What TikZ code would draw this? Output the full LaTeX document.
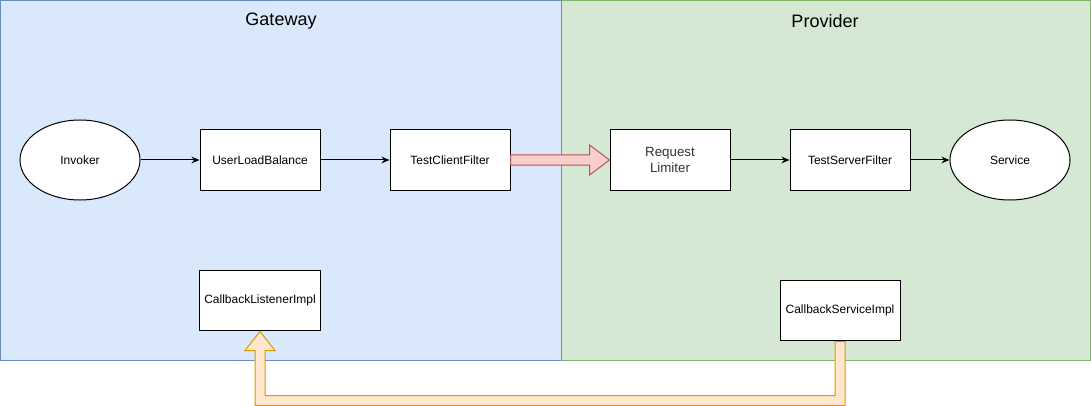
\documentclass[tikz,border=0pt]{standalone}
\usepackage{fontspec}
\setmainfont{Liberation Sans}
\usetikzlibrary{calc,arrows.meta}
\definecolor{gwfill}{HTML}{DAE8FC}
\definecolor{gwline}{HTML}{6C8EBF}
\definecolor{pvfill}{HTML}{D5E8D4}
\definecolor{pvline}{HTML}{82B366}
\definecolor{redfill}{HTML}{F8CECC}
\definecolor{redline}{HTML}{B85450}
\definecolor{orgfill}{HTML}{FFE6CC}
\definecolor{orgline}{HTML}{D79B00}
\tikzset{
    box/.style={
        draw=black, fill=white, line width=0.75pt,
        minimum width=90pt, minimum height=45pt,
        font=\fontsize{9}{11}\selectfont, align=center
    },
    oval/.style={
        draw=black, fill=white, line width=0.75pt, ellipse,
        minimum width=90pt, minimum height=60pt,
        font=\fontsize{9}{11}\selectfont
    },
    title/.style={
        font=\fontsize{13.5}{16}\selectfont
    },
    flow/.style={
        line width=0.75pt, -{Stealth[length=6pt,width=5pt]}
    }
}
\usetikzlibrary{shapes.geometric}

\begin{document}
\begin{tikzpicture}[x=0.75pt,y=-0.75pt,line cap=butt,line join=miter]

\useasboundingbox (0,0) rectangle (1091,406);

% --- zones ---
    \draw[fill=gwfill, draw=gwline, line width=0.75pt] (0.5,0.5) rectangle (561,360);
    \draw[fill=pvfill, draw=pvline, line width=0.75pt] (561,0.5) rectangle (1090.5,360);
    \draw[gwline, line width=0.75pt] (561,0.5) -- (561,360);

    \node[title] (gwtitle) at (281,21) {Gateway};
    \node[title] (pvtitle) at (825,21) {Provider};

% --- call chain ---
    \node[oval] (invoker) at (80,160) {Invoker};
    \node[box] (ulb) at (260,160) {UserLoadBalance};
    \node[box] (tcf) at (450,160) {TestClientFilter};
    \node[box, text=black!80, font=\fontsize{10}{12}\selectfont] (rl) at (670,160) {Request\\Limiter};
    \node[box] (tsf) at (850,160) {TestServerFilter};
    \node[oval] (service) at (1010,160) {Service};

% --- callbacks ---
    \node[box] (cli) at (260,300) {CallbackListenerImpl};
    \node[box] (csi) at (840,310) {CallbackServiceImpl};

% thin arrows
    \draw[flow] (invoker) -- (ulb);
    \draw[flow] (ulb) -- (tcf);
    \draw[flow] (rl) -- (tsf);
    \draw[flow] (tsf) -- (service);

% fat arrow gateway -> provider
    \draw[fill=redfill, draw=redline, line width=0.75pt]
        ($(tcf.east)+(0,-5)$) -- ($(rl.west)+(-20,-5)$) -- ($(rl.west)+(-20,-15)$)
        -- (rl.west) -- ($(rl.west)+(-20,15)$) -- ($(rl.west)+(-20,5)$)
        -- ($(tcf.east)+(0,5)$) -- cycle;

% callback arrow (under both boxes)
    \draw[fill=orgfill, draw=orgline, line width=0.75pt]
        ($(csi.south)+(-5,1)$) -- ($(csi.south)+(-5,55)$) -- ($(cli.south)+(5,65)$)
        -- ($(cli.south)+(5,20)$) -- ($(cli.south)+(15,20)$) -- ($(cli.south)+(0,1)$)
        -- ($(cli.south)+(-15,20)$) -- ($(cli.south)+(-5,20)$) -- ($(cli.south)+(-5,75)$)
        -- ($(csi.south)+(5,65)$) -- ($(csi.south)+(5,1)$) -- cycle;

  \end{tikzpicture}
\end{document}
